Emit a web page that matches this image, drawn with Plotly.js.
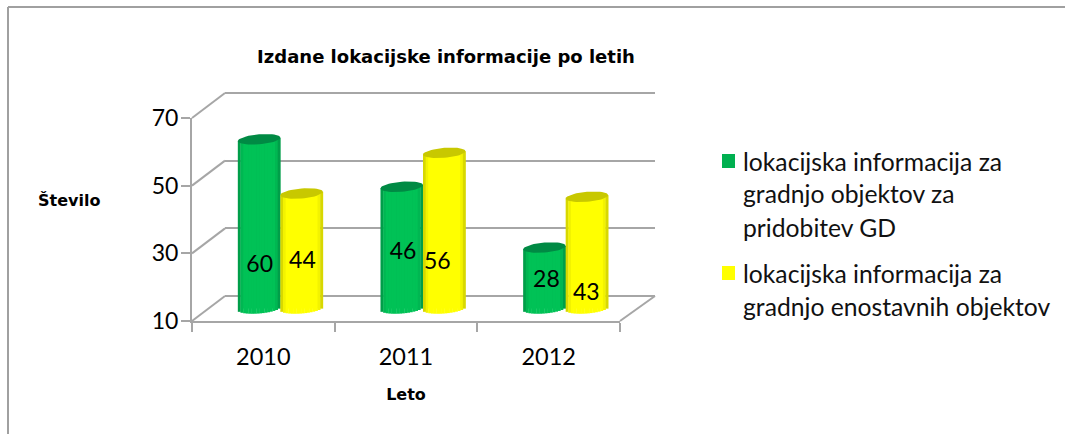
<!DOCTYPE html>
<html><head><meta charset="utf-8">
<script src="https://cdn.plot.ly/plotly-3.0.1.min.js"></script>
<style>html,body{margin:0;padding:0;background:#fff}</style></head>
<body><div id="chart" style="width:1065px;height:434px"></div>
<script>
const categories = ['2010','2011','2012'];
const seriesGreen = [60,46,28];
const seriesYellow = [44,56,43];
const seriesNames = ['lokacijska informacija za gradnjo objektov za pridobitev GD','lokacijska informacija za gradnjo enostavnih objektov'];
const legendLinesGreen = ['lokacijska informacija za','gradnjo objektov za','pridobitev GD'];
const legendLinesYellow = ['lokacijska informacija za','gradnjo enostavnih objektov'];
const yTicks = [10,30,50,70];
const chartTitle = 'Izdane lokacijske informacije po letih';
const yTitle = 'Število';
const xTitle = 'Leto';
// where each data label sits on its bar, in axis units
const labelYGreen = [22.6,26.4,18.1];
const labelYYellow = [23.7,23.4,14.2];
const labelXGreen = [-0.145,0.86,1.865];
const labelXYellow = [0.155,1.10,2.145];

const W=1065,H=434,fx=p=>p/W,fy=p=>1-p/H;
const FONT='Lato, "Open Sans", sans-serif', TITLEFONT='"DejaVu Sans", sans-serif', GRID='#a6a6a6';
const pxPerUnit=(308.5-105.5)/60, yLow=6;
const barW=0.298, capH=5/pxPerUnit, tilt=1.7/pxPerUnit, N=16;
const hex=(a,b,t)=>'#'+[0,1,2].map(i=>Math.round(a[i]+(b[i]-a[i])*t).toString(16).padStart(2,'0')).join('');
const palette=[{edge:[0,122,60],mid:[0,194,86],cap:'#008a44',solid:'#00b050',off:-barW},
               {edge:[176,176,0],mid:[255,255,0],cap:'#c8c800',solid:'#ffff00',off:0}];
const xs=categories.map((_,i)=>i);
const traces=[];
traces.push({type:'scatter',mode:'lines',x:categories,y:[10,10,10],xaxis:'x',yaxis:'y',line:{width:0},hoverinfo:'skip',showlegend:false});
traces.push({type:'scatter',mode:'lines',x:categories,y:[10,10,10],xaxis:'x2',yaxis:'y2',line:{width:0},hoverinfo:'skip',showlegend:false});
[seriesGreen,seriesYellow].forEach((vals,s)=>{
  const p=palette[s];
  traces.push({type:'bar',name:seriesNames[s],x:xs,y:vals,xaxis:'x3',yaxis:'y3',width:barW*0.8,offset:p.off+barW*0.1,
    marker:{color:p.solid,line:{width:0}},showlegend:false,hoverinfo:'y'});
});
[seriesGreen,seriesYellow].forEach((vals,s)=>{
  const p=palette[s], sw=barW/N;
  for(let k=0;k<N;k++){
    const u=(k+0.5)/N*2-1;
    const t=Math.min(1,1.45*Math.sqrt(1-u*u));
    const b=10-Math.sqrt(1-u*u)*capH+tilt*u;
    traces.push({type:'bar',x:xs,y:vals.map(v=>v+tilt*u-b),base:xs.map(()=>b),xaxis:'x3',yaxis:'y4',
      width:sw*1.12,offset:p.off+k*sw,marker:{color:hex(p.edge,p.mid,t),line:{width:0}},showlegend:false,hoverinfo:'skip'});
  }
});
[seriesGreen,seriesYellow].forEach((vals,s)=>{
  const p=palette[s];
  vals.forEach((v,i)=>{
    const cx=i+p.off+barW/2,ex=[],ey=[];
    for(let a=0;a<=48;a++){const th=a/48*2*Math.PI,c=Math.cos(th);
      ex.push(cx+c*barW/2);ey.push(v+tilt*c+Math.sin(th)*capH);}
    traces.push({type:'scatter',mode:'lines',x:ex,y:ey,xaxis:'x3',yaxis:'y4',fill:'toself',fillcolor:p.cap,line:{width:0,color:p.cap},hoverinfo:'skip',showlegend:false});
  });
});
traces.push({type:'scatter',mode:'text',x:labelXGreen,y:labelYGreen,text:seriesGreen.map(String),xaxis:'x3',yaxis:'y4',textposition:'middle center',textfont:{family:FONT,size:23,color:'#000'},hoverinfo:'skip',showlegend:false});
traces.push({type:'scatter',mode:'text',x:labelXYellow,y:labelYYellow,text:seriesYellow.map(String),xaxis:'x3',yaxis:'y4',textposition:'middle center',textfont:{family:FONT,size:23,color:'#000'},hoverinfo:'skip',showlegend:false});

const shapes=[],annotations=[];
const line={color:GRID,width:2};
const frontY=v=>321-(v-10)*(321-118)/60, backY=v=>296-(v-10)*(296-93)/60;
yTicks.forEach(v=>shapes.push({type:'line',xref:'paper',yref:'paper',x0:fx(192),y0:fy(frontY(v)),x1:fx(225),y1:fy(backY(v)),line,layer:'below'}));
shapes.push({type:'line',xref:'paper',yref:'paper',x0:fx(620),y0:fy(321),x1:fx(655),y1:fy(296),line,layer:'below'});
shapes.push({type:'line',xref:'paper',yref:'paper',x0:fx(8),y0:fy(7),x1:1,y1:fy(7),line:{color:'#a0a0a0',width:2}});
shapes.push({type:'line',xref:'paper',yref:'paper',x0:fx(8),y0:fy(7),x1:fx(8),y1:0,line:{color:'#a0a0a0',width:2}});
const legendText=(lines,y0)=>lines.forEach((t,i)=>annotations.push({xref:'paper',yref:'paper',x:fx(741),y:fy(y0+i*33),xanchor:'left',yanchor:'middle',showarrow:false,text:t,font:{family:FONT,size:24.7,color:'#111'}}));
legendText(legendLinesGreen,161);
legendText(legendLinesYellow,273);
[[palette[0].solid,154],[palette[1].solid,266]].forEach(([c,y])=>shapes.push({type:'rect',xref:'paper',yref:'paper',x0:fx(722),x1:fx(735),y0:fy(y),y1:fy(y+14),fillcolor:c,line:{width:0}}));
annotations.push({xref:'paper',yref:'paper',x:fx(69),xanchor:'center',y:fy(201),showarrow:false,text:'<b>'+yTitle+'</b>',font:{family:TITLEFONT,size:16,color:'#000'}});

const hidden={visible:false,fixedrange:true};
const layout={width:W,height:H,margin:{l:0,r:0,t:0,b:0},paper_bgcolor:'#fff',plot_bgcolor:'rgba(0,0,0,0)',
  barmode:'overlay',showlegend:false,
  title:{text:'<b>'+chartTitle+'</b>',x:fx(446),xanchor:'center',y:fy(57),yanchor:'middle',font:{family:TITLEFONT,size:18,color:'#000'}},
  xaxis:{domain:[fx(225),fx(655)],type:'category',categoryarray:categories,range:[-0.5,2.5],showgrid:false,showline:false,showticklabels:false,ticks:'',zeroline:false,anchor:'y'},
  yaxis:{domain:[fy(296+0.5*pxPerUnit),fy(93-0.5*pxPerUnit)],range:[9.5,70.5],tickmode:'array',tickvals:yTicks,showgrid:true,gridcolor:GRID,gridwidth:2,showline:false,showticklabels:false,ticks:'',zeroline:false,anchor:'x'},
  xaxis2:{domain:[fx(192),fx(620)],type:'category',categoryarray:categories,range:[-0.5,2.5],tickson:'boundaries',ticks:'outside',ticklen:9,tickwidth:2,tickcolor:GRID,showline:true,linecolor:GRID,linewidth:2,showgrid:false,zeroline:false,anchor:'y2',
    tickfont:{family:FONT,size:23.5,color:'#000'},ticklabelstandoff:14,title:{text:'<b>'+xTitle+'</b>',font:{family:TITLEFONT,size:16,color:'#000'},standoff:20}},
  yaxis2:{domain:[fy(321),fy(118)],range:[10,70],tickmode:'array',tickvals:yTicks,ticks:'outside',ticklen:9,tickwidth:2,tickcolor:GRID,showline:true,linecolor:GRID,linewidth:2,showgrid:false,zeroline:false,anchor:'x2',
    tickfont:{family:FONT,size:23,color:'#000'},ticklabelstandoff:-2},
  xaxis3:Object.assign({domain:[fx(209),fx(637)],range:[-0.5,2.5],anchor:'y3'},hidden),
  yaxis3:Object.assign({domain:[fy(308.5),fy(105.5)],range:[10,70],anchor:'x3'},hidden),
  yaxis4:Object.assign({domain:[fy(308.5+(10-yLow)*pxPerUnit),fy(105.5)],range:[yLow,70],anchor:'x3'},hidden),
  shapes,annotations};
Plotly.newPlot('chart',traces,layout,{displayModeBar:false,responsive:false});
</script></body></html>
